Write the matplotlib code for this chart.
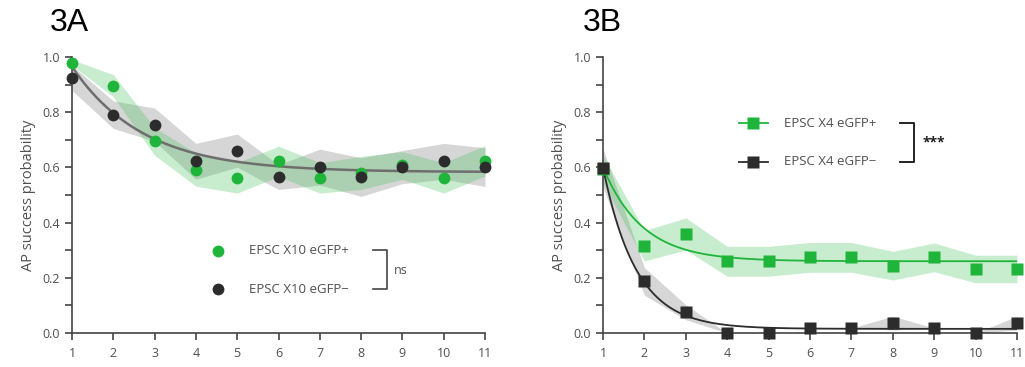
import numpy as np
import matplotlib
matplotlib.use("Agg")
import matplotlib.pyplot as plt
from matplotlib.ticker import MultipleLocator

# ---------------- data ----------------
stim = [1, 2, 3, 4, 5, 6, 7, 8, 9, 10, 11]

# Panel 3A (EPSC X10)
a_pos_mean = [0.98, 0.896, 0.694, 0.592, 0.562, 0.622, 0.562, 0.580, 0.607, 0.562, 0.624]
a_pos_sem = [0.01, 0.04, 0.05, 0.06, 0.055, 0.055, 0.055, 0.06, 0.05, 0.055, 0.055]
a_neg_mean = [0.924, 0.791, 0.755, 0.622, 0.661, 0.565, 0.601, 0.565, 0.601, 0.622, 0.601]
a_neg_sem = [0.045, 0.05, 0.06, 0.065, 0.06, 0.045, 0.065, 0.07, 0.06, 0.065, 0.07]
a_fit = dict(y0=0.965, plateau=0.583, k=0.58)

# Panel 3B (EPSC X4)
b_pos_mean = [0.594, 0.316, 0.359, 0.260, 0.260, 0.274, 0.274, 0.244, 0.274, 0.232, 0.232]
b_pos_sem = [0.05, 0.055, 0.058, 0.054, 0.054, 0.054, 0.054, 0.052, 0.052, 0.05, 0.05]
b_neg_mean = [0.598, 0.187, 0.075, 0.0, 0.0, 0.018, 0.018, 0.036, 0.018, 0.0, 0.036]
b_neg_sem = [0.07, 0.05, 0.027, 0.0, 0.0, 0.0, 0.0, 0.025, 0.0, 0.0, 0.025]
b_fit_pos = dict(y0=0.60, plateau=0.26, k=1.05)
b_fit_neg = dict(y0=0.60, plateau=0.015, k=1.25)

labels_a = ["EPSC X10 eGFP+", "EPSC X10 eGFP\u2212"]
labels_b = ["EPSC X4 eGFP+", "EPSC X4 eGFP\u2212"]
sig_a = "ns"
sig_b = "***"
y_ticks = [0.0, 0.2, 0.4, 0.6, 0.8, 1.0]

# ---------------- style ----------------
GREEN = "#1fb53a"
DARK = "#2c2c2c"
TXT = "#505050"
plt.rcParams['font.family'] = ['Open Sans', 'DejaVu Sans']

fig = plt.figure(figsize=(10.25, 3.67), dpi=100)
axA = fig.add_axes([72/1025, 1-333/367, 413/1025, 276/367])
axB = fig.add_axes([603/1025, 1-333/367, 414/1025, 276/367])


def expfit(p, x):
    x = np.asarray(x)
    return p['plateau'] + (p['y0'] - p['plateau']) * np.exp(-p['k'] * (x - 1))


def style(ax):
    ax.set_xlim(1, 11)
    ax.set_ylim(0, 1)
    for s in ['top', 'right']:
        ax.spines[s].set_visible(False)
    for s in ['left', 'bottom']:
        ax.spines[s].set_color('#444444')
        ax.spines[s].set_linewidth(1.2)
    ax.set_xticks(stim)
    ax.set_yticks(y_ticks)
    ax.set_yticklabels([f"{v:.1f}" for v in y_ticks])
    ax.yaxis.set_minor_locator(MultipleLocator(0.1))
    ax.tick_params(axis='both', which='both', direction='out', color='#444444',
                   width=1.2, labelsize=9, labelcolor=TXT)
    ax.tick_params(axis='both', which='major', length=5)
    ax.tick_params(axis='y', which='minor', length=5)
    ax.tick_params(axis='x', pad=5)
    ax.set_ylabel("AP success probability", fontsize=10.5, color=TXT, labelpad=5)


x = np.array(stim)
xs = np.linspace(1, 11, 200)

# ---- Panel A ----
style(axA)
ap, asd = np.array(a_pos_mean), np.array(a_pos_sem)
an, ansd = np.array(a_neg_mean), np.array(a_neg_sem)
axA.fill_between(x, an - ansd, an + ansd, color='#8a8a8a', alpha=0.35, lw=0)
axA.fill_between(x, ap - asd, ap + asd, color='#3cc052', alpha=0.28, lw=0)
axA.plot(xs, expfit(a_fit, xs), color='#6e6e6e', lw=1.8, zorder=3)
axA.plot(x, ap, 'o', color=GREEN, ms=8.5, mec='none', clip_on=False, zorder=4)
axA.plot(x, an, 'o', color=DARK, ms=8.5, mec='none', clip_on=False, zorder=5)

# legend A
axA.plot([4.53], [0.298], 'o', color=GREEN, ms=8.5, mec='none')
axA.plot([4.53], [0.159], 'o', color=DARK, ms=8.5, mec='none')
axA.text(5.29, 0.298, labels_a[0], fontsize=9.5, color=TXT, va='center', ha='left')
axA.text(5.29, 0.159, labels_a[1], fontsize=9.5, color=TXT, va='center', ha='left')
axA.plot([8.28, 8.62, 8.62, 8.28], [0.300, 0.300, 0.159, 0.159], color='#444444', lw=1.2)
axA.text(8.80, 0.225, sig_a, fontsize=9, color=TXT, va='center', ha='left')

# ---- Panel B ----
style(axB)
bp, bpsd = np.array(b_pos_mean), np.array(b_pos_sem)
bn, bnsd = np.array(b_neg_mean), np.array(b_neg_sem)
axB.fill_between(x, np.clip(bn - bnsd, 0, None), bn + bnsd, color='#8a8a8a', alpha=0.35, lw=0)
axB.fill_between(x, bp - bpsd, bp + bpsd, color='#3cc052', alpha=0.28, lw=0)
axB.plot(xs, expfit(b_fit_pos, xs), color=GREEN, lw=1.3, zorder=3)
axB.plot(xs, expfit(b_fit_neg, xs), color=DARK, lw=1.3, zorder=3)
axB.plot(x, bp, 's', color=GREEN, ms=8, mec='none', clip_on=False, zorder=4)
axB.plot(x, bn, 's', color=DARK, ms=8, mec='none', clip_on=False, zorder=5)

# legend B
axB.plot([4.28, 4.98], [0.760, 0.760], color=GREEN, lw=1.3)
axB.plot([4.62], [0.760], 's', color=GREEN, ms=8, mec='none')
axB.plot([4.28, 4.98], [0.621, 0.621], color=DARK, lw=1.3)
axB.plot([4.62], [0.621], 's', color=DARK, ms=8, mec='none')
axB.text(5.38, 0.760, labels_b[0], fontsize=9.5, color=TXT, va='center', ha='left')
axB.text(5.38, 0.621, labels_b[1], fontsize=9.5, color=TXT, va='center', ha='left')
axB.plot([8.17, 8.52, 8.52, 8.17], [0.760, 0.760, 0.621, 0.621], color='#222222', lw=1.4)
axB.text(8.72, 0.690, sig_b, fontsize=10, color='#222222', va='center', ha='left',
         fontweight='bold')

# panel titles
fig.text(50/1025, 1-23/367, "3A", fontsize=23, family='Liberation Sans', va='center', ha='left')
fig.text(583/1025, 1-23/367, "3B", fontsize=23, family='Liberation Sans', va='center', ha='left')

fig.savefig("out.png", dpi=100)
